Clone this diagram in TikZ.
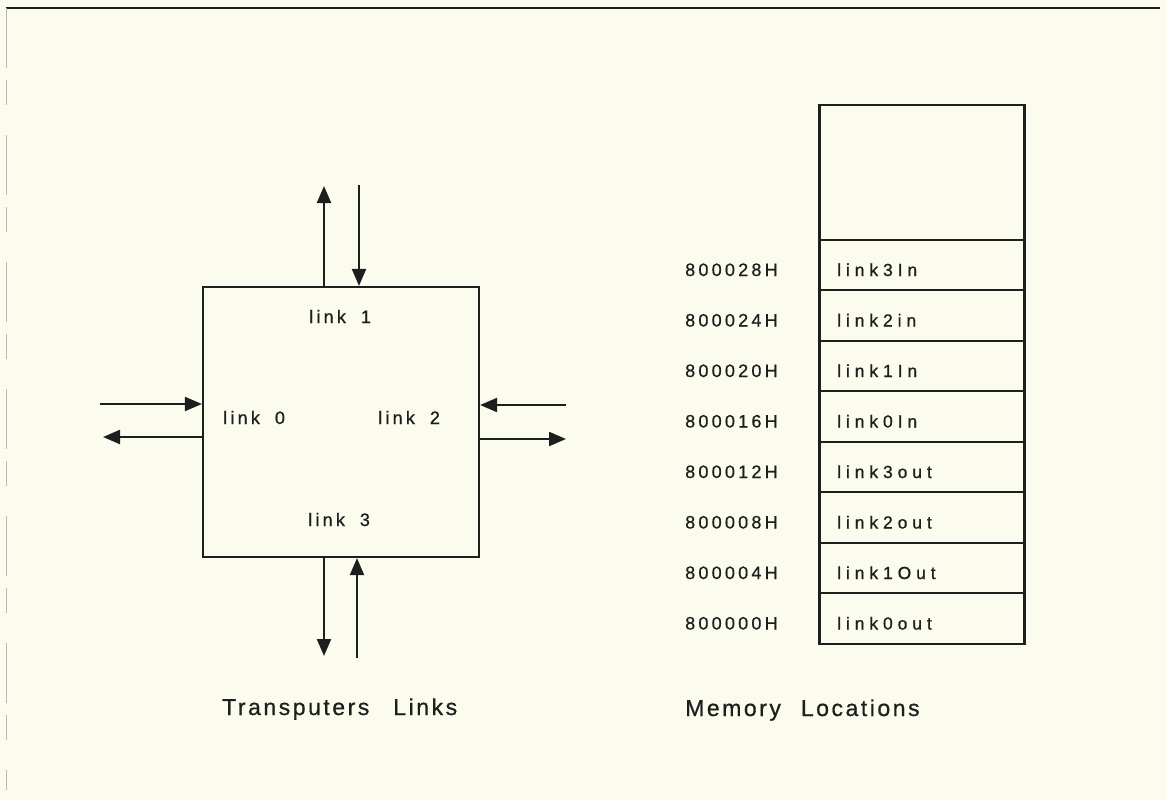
\documentclass[tikz,border=0pt]{standalone}
\usepackage{fontspec}
\setmainfont{Liberation Sans}
\newfontfamily\addrfont[LetterSpace=18,FakeBold=0.6]{Liberation Sans}
\newfontfamily\cellfont[LetterSpace=28,FakeBold=0.9]{Liberation Sans}
\newfontfamily\linkfont[LetterSpace=18,FakeBold=0.9]{Liberation Sans}
\newfontfamily\capfont[LetterSpace=11,FakeBold=0.7]{Liberation Sans}
\usetikzlibrary{arrows.meta}
\definecolor{paper}{RGB}{251,251,238}
\definecolor{ink}{RGB}{30,30,30}
\tikzset{
  box/.style={draw=ink, line width=2.2pt, inner sep=0pt},
  arr/.style={draw=ink, line width=2.2pt, -{Triangle[length=17pt,width=14pt]}},
  addr/.style={anchor=base west, inner sep=0pt, text=ink, font=\addrfont\fontsize{18}{18}\selectfont},
  celltxt/.style={anchor=base west, inner sep=0pt, text=ink, font=\cellfont\fontsize{17.5}{18}\selectfont},
  linktxt/.style={anchor=base west, inner sep=0pt, text=ink, font=\linkfont\fontsize{18}{18}\selectfont},
  captxt/.style={anchor=base west, inner sep=0pt, text=ink, font=\capfont\fontsize{23}{23}\selectfont},
}
\begin{document}
\begin{tikzpicture}[x=1pt,y=-1pt]
\fill[paper] (0,0) rectangle (1167,800);
\useasboundingbox (0,0) rectangle (1167,800);
% page frame remnants
\draw[ink, line width=1.5pt] (6,8) -- (1160,8);
\draw[gray!55, line width=1pt, dash pattern=on 60pt off 12pt on 25pt off 30pt] (6,8) -- (6,790);

% transputer
\node[box, minimum width=276pt, minimum height=270pt] (chip) at (341,422) {};
\coordinate (t1) at (324,186);
\coordinate (t2) at (359,185);
\coordinate (l1) at (100,404);
\coordinate (l2) at (103,437);
\coordinate (r1) at (566,405);
\coordinate (r2) at (566,439);
\coordinate (b1) at (324,656);
\coordinate (b2) at (357,658);
\draw[arr] (chip.north -| t1) -- (t1);
\draw[arr] (t2) -- (chip.north -| t2);
\draw[arr] (l1) -- (l1 -| chip.west);
\draw[arr] (l2 -| chip.west) -- (l2);
\draw[arr] (r1) -- (r1 -| chip.east);
\draw[arr] (r2 -| chip.east) -- (r2);
\draw[arr] (chip.south -| b1) -- (b1);
\draw[arr] (b2) -- (chip.south -| b2);

\node[linktxt] (lk1) at (309,323) {link\hspace{15pt}1};
\node[linktxt] (lk0) at (223,424) {link\hspace{15pt}0};
\node[linktxt] (lk2) at (378,424) {link\hspace{15pt}2};
\node[linktxt] (lk3) at (308,526) {link\hspace{15pt}3};

% memory map
\node[box, minimum width=205pt, minimum height=135pt] (mtop) at (922,172.5) {};
\foreach \lab/\adr [count=\i from 0] in {link3In/800028H, link2in/800024H, link1In/800020H, link0In/800016H, link3out/800012H, link2out/800008H, link1Out/800004H, link0out/800000H}{
  \node[box, minimum width=205pt, minimum height=50.5pt] (m\i) at (922,{265+50.5*\i}) {};
  \node[celltxt] (ml\i) at (837,{276+50.5*\i}) {\lab};
  \node[addr] (ma\i) at (685,{276+50.5*\i}) {\adr};
}

% captions
\node[captxt] (cap1) at (222,715) {Transputers\hspace{24pt}Links};
\node[captxt] (cap2) at (685,716) {Memory\hspace{20pt}Locations};
\end{tikzpicture}
\end{document}
